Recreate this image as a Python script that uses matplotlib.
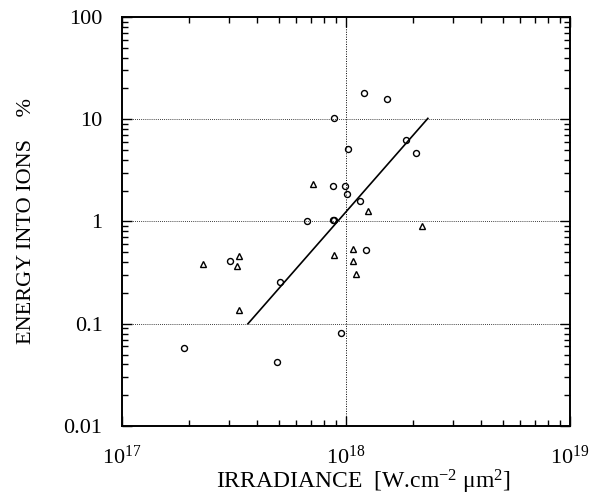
import matplotlib
matplotlib.use("Agg")
import matplotlib.pyplot as plt
from matplotlib.ticker import LogLocator, NullFormatter, FixedLocator, FixedFormatter

# Data (irradiance W.cm^-2 um^2, energy into ions %)
circle_x = [1.2e18, 1.52e18, 8.87e17, 1.02e18, 1.85e18, 2.05e18, 8.77e17, 9.9e17,
            1.01e18, 1.15e18, 6.68e17, 8.72e17, 8.82e17, 3.05e17, 1.23e18, 5.1e17,
            9.5e17, 1.89e17, 4.92e17]
circle_y = [18.1, 15.7, 10.2, 5.16, 6.27, 4.67, 2.22, 2.2,
            1.87, 1.58, 1.02, 1.03, 1.04, 0.41, 0.53, 0.258,
            0.082, 0.058, 0.042]
tri_x = [7.1e17, 1.26e18, 2.19e18, 2.3e17, 3.34e17, 3.27e17, 3.34e17, 8.8e17,
         1.08e18, 1.08e18, 1.11e18]
tri_y = [2.34, 1.26, 0.91, 0.388, 0.457, 0.37, 0.137, 0.468,
         0.54, 0.41, 0.305]
fit_x = [3.65e17, 2.32e18]
fit_y = [0.1, 10.2]

xticks = [1e17, 1e18, 1e19]
xticklabels = [r"$\mathregular{10^{17}}$", r"$\mathregular{10^{18}}$", r"$\mathregular{10^{19}}$"]
yticks = [0.01, 0.1, 1, 10, 100]
yticklabels = ["0.01", "0.1", "1", "10", "100"]

plt.rcParams['font.family'] = ['Liberation Serif', 'DejaVu Serif']
plt.rcParams['mathtext.fontset'] = 'custom'
plt.rcParams['mathtext.rm'] = 'Liberation Serif'

fig = plt.figure(figsize=(5.98, 4.98), dpi=100)
ax = fig.add_axes([122/598, 1-426/498, (570-122)/598, (426-17)/498])

ax.set_xscale('log')
ax.set_yscale('log')
ax.set_xlim(1e17, 1e19)
ax.set_ylim(0.01, 100)

# grid (dotted, decades only)
for gx in [1e18]:
    ax.axvline(gx, color='black', linestyle=(0, (1, 1.5)), linewidth=0.7, zorder=1)
for gy in [0.1, 1, 10]:
    ax.axhline(gy, color='black', linestyle=(0, (1, 1.5)), linewidth=0.6, zorder=1)

ax.plot(fit_x, fit_y, color='black', linewidth=1.2, zorder=2)
ax.plot(circle_x, circle_y, linestyle='none', marker='o', markersize=4.3,
        markerfacecolor='none', markeredgecolor='black', markeredgewidth=1.0, zorder=3)
ax.plot(tri_x, tri_y, linestyle='none', marker='^', markersize=4.7,
        markerfacecolor='none', markeredgecolor='black', markeredgewidth=1.0, zorder=3)

ax.xaxis.set_major_locator(FixedLocator(xticks))
ax.xaxis.set_major_formatter(FixedFormatter(xticklabels))
ax.yaxis.set_major_locator(FixedLocator(yticks))
ax.yaxis.set_major_formatter(FixedFormatter(yticklabels))
ax.xaxis.set_minor_locator(LogLocator(base=10, subs=range(2, 10), numticks=20))
ax.yaxis.set_minor_locator(LogLocator(base=10, subs=range(2, 10), numticks=20))
ax.xaxis.set_minor_formatter(NullFormatter())
ax.yaxis.set_minor_formatter(NullFormatter())

ax.tick_params(axis='both', which='both', direction='in', top=True, right=True,
               color='black', width=1.0)
ax.tick_params(axis='both', which='major', length=7)
ax.tick_params(axis='both', which='minor', length=4)
ax.tick_params(axis='x', which='major', labelsize=16, pad=14)
ax.tick_params(axis='y', which='major', labelsize=16, pad=14)

for s in ax.spines.values():
    s.set_linewidth(1.4)
    s.set_color('black')

ax.set_xlabel(r"IRRADIANCE  [W.cm$\mathregular{^{-2}}$ $\mathregular{\mu}$m$\mathregular{^{2}}$]",
              fontsize=17)
ax.xaxis.set_label_coords(0.54, -0.102)
ax.set_ylabel("ENERGY INTO IONS    %", fontsize=16, labelpad=20)

fig.savefig("out.png", dpi=100)
